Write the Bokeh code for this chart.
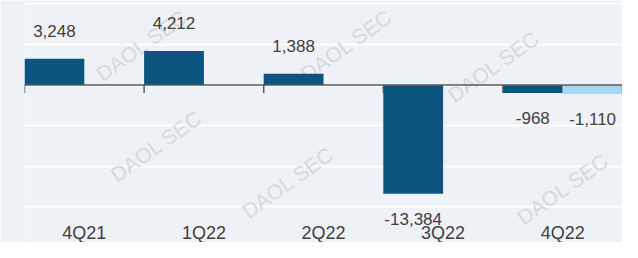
import math
from bokeh.plotting import figure
from bokeh.models import ColumnDataSource, FixedTicker, Range1d, Span
from bokeh.core.properties import value
from bokeh.embed import file_html
from bokeh.resources import INLINE

# ---- data ----
categories = ["4Q21", "1Q22", "2Q22", "3Q22", "4Q22"]
series_actual = [3248, 4212, 1388, -13384, -968]
series_estimate = [None, None, None, None, -1110]
grid_ticks = [-15000, -10000, -5000, 0, 5000, 10000]
watermark_text = "DAOL SEC"
# watermark anchor points (data units: category index, value)
watermark_x = [0.48, 0.60, 2.19, 1.70, 3.42, 4.00]
watermark_y = [4900, -7500, 4900, -12000, 2300, -12800]

BG = "#eef1f5"
DARK = "#0b5580"
LIGHT = "#a9d8f4"
TEXT = "#404040"
AXIS = "#5a5a5a"
FONT = value("Liberation Sans")

n = len(categories)
Y_START, Y_END = -19384, 10419

p = figure(width=622, height=242, output_backend="svg", toolbar_location=None,
           x_range=Range1d(-0.5, 4.5), y_range=Range1d(Y_START, Y_END),
           min_border_left=24, min_border_right=0, min_border_top=0,
           min_border_bottom=0, tools="")
p.background_fill_color = BG
p.border_fill_color = BG
p.outline_line_color = None
p.xaxis.visible = False
p.yaxis.visible = False

# watermarks
wm = ColumnDataSource(dict(x=watermark_x, y=watermark_y,
                           t=[watermark_text] * len(watermark_x)))
p.text(x="x", y="y", text="t", source=wm, angle=0.62, text_align="center",
       text_baseline="middle", text_font=FONT, text_font_size="21px",
       text_color="#d6d9de")

# grid
p.xgrid.visible = False
p.ygrid.ticker = FixedTicker(ticks=grid_ticks)
p.ygrid.grid_line_color = "white"
p.ygrid.grid_line_width = 2

# bars
xs = list(range(n))
act_x = [i - 0.25 for i in xs]
act = ColumnDataSource(dict(x=act_x, top=series_actual))
p.vbar(x="x", top="top", bottom=0, width=0.5, source=act,
       fill_color=DARK, line_color=None)
est_x = [i + 0.25 for i, v in zip(xs, series_estimate) if v is not None]
est_v = [v for v in series_estimate if v is not None]
est = ColumnDataSource(dict(x=est_x, top=est_v))
p.vbar(x="x", top="top", bottom=0, width=0.5, source=est,
       fill_color=LIGHT, line_color=None)

# zero line with category-boundary ticks
p.add_layout(Span(location=0, dimension="width", line_color=AXIS,
                  line_width=1.5))
p.ray(x=[i - 0.5 for i in range(n + 1)], y=[0] * (n + 1), length=8,
      length_units="screen", angle=-math.pi / 2, line_color=AXIS,
      line_width=1.5)

# data labels
all_x = act_x + est_x
all_v = series_actual + est_v
pos = ColumnDataSource(dict(x=[x for x, v in zip(all_x, all_v) if v >= 0],
                            y=[v for v in all_v if v >= 0],
                            lab=[f"{v:,}" for v in all_v if v >= 0]))
neg = ColumnDataSource(dict(x=[x for x, v in zip(all_x, all_v) if v < 0],
                            y=[v for v in all_v if v < 0],
                            lab=[f"{v:,}" for v in all_v if v < 0]))
p.text(x="x", y="y", text="lab", source=pos, text_align="center",
       text_baseline="alphabetic", y_offset=-28, text_font=FONT,
       text_font_size="17px", text_color=TEXT)
p.text(x="x", y="y", text="lab", source=neg, text_align="center",
       text_baseline="top", y_offset=19, text_font=FONT,
       text_font_size="17px", text_color=TEXT)

# category labels along the bottom
cat = ColumnDataSource(dict(x=xs, y=[Y_START] * n, lab=categories))
p.text(x="x", y="y", text="lab", source=cat, text_align="center",
       text_baseline="alphabetic", y_offset=-10, text_font=FONT,
       text_font_size="18px", text_color=TEXT)

open("out.html", "w").write(file_html(p, INLINE))
